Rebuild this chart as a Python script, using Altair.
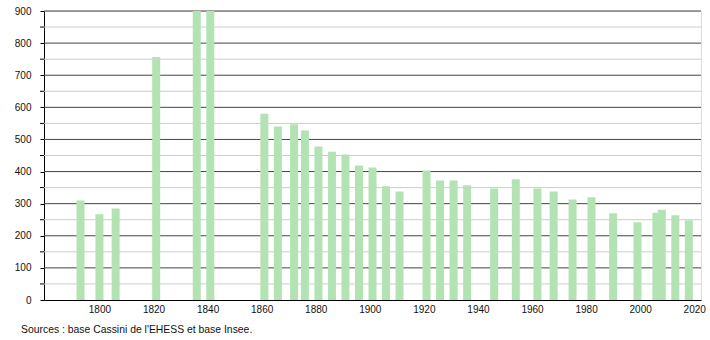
import altair as alt
import pandas as pd

years = [1793, 1800, 1806, 1821, 1836, 1841, 1861, 1866, 1872, 1876, 1881, 1886,
         1891, 1896, 1901, 1906, 1911, 1921, 1926, 1931, 1936, 1946, 1954, 1962,
         1968, 1975, 1982, 1990, 1999, 2006, 2008, 2013, 2018]
population = [310, 267, 285, 757, 950, 940, 580, 540, 547, 528, 478, 462,
              453, 419, 413, 354, 338, 403, 372, 372, 357, 347, 376, 347,
              338, 313, 320, 270, 242, 272, 281, 264, 248]
major_grid = [100, 200, 300, 400, 500, 600, 700, 800, 900]
minor_grid = [50, 150, 250, 350, 450, 550, 650, 750, 850]
x_ticks = [1800, 1820, 1840, 1860, 1880, 1900, 1920, 1940, 1960, 1980, 2000, 2020]
y_ticks = [0, 100, 200, 300, 400, 500, 600, 700, 800, 900]
source_text = "Sources : base Cassini de l'EHESS et base Insee."

FONT = "Liberation Sans"

df = pd.DataFrame({"year": years, "pop": population})
df_major = pd.DataFrame({"v": major_grid})
df_minor = pd.DataFrame({"v": minor_grid})
df_src = pd.DataFrame({"t": [source_text]})

xscale = alt.Scale(domain=[1779.5, 2022.5], nice=False, zero=False, padding=0)
yscale = alt.Scale(domain=[0, 900], nice=False, padding=0)

yaxis = alt.Axis(values=y_ticks, grid=False, format="d",
                 ticks=True, tickSize=4, tickColor="#000000",
                 domain=True, domainColor="#000000",
                 labelFont=FONT, labelFontSize=10, labelColor="#111111",
                 labelPadding=9)

xaxis = alt.Axis(values=x_ticks, format="d", ticks=False, grid=False,
                 domain=True, domainColor="#000000", domainWidth=1,
                 labelFont=FONT, labelFontSize=10, labelColor="#111111",
                 labelPadding=4)

minor = alt.Chart(df_minor).mark_rule(color="#cccccc", strokeWidth=1).encode(
    y=alt.Y("v:Q", scale=yscale, title=None, axis=yaxis)
)
minor_ticks = alt.Chart(df_minor).mark_rule(color="#000000", strokeWidth=1, clip=False).encode(
    y=alt.Y("v:Q", scale=yscale, title=None, axis=yaxis),
    x=alt.value(-4), x2=alt.value(0)
)
major = alt.Chart(df_major).mark_rule(color="#444444", strokeWidth=1).encode(
    y=alt.Y("v:Q", scale=yscale, title=None, axis=yaxis)
)

bars = alt.Chart(df).mark_bar(size=8, color="#b3e3b3", clip=True).encode(
    x=alt.X("year:Q", scale=xscale, title=None, axis=xaxis),
    y=alt.Y("pop:Q", scale=yscale, title=None, axis=yaxis),
)

src = alt.Chart(df_src).mark_text(align="left", baseline="middle", font=FONT,
                                   fontSize=10.4, color="#111111").encode(
    text="t:N", x=alt.value(-23), y=alt.value(319)
)

chart = alt.layer(minor, minor_ticks, major, bars, src).properties(
    width=657, height=289,
    autosize=alt.AutoSizeParams(type="none"),
    padding={"left": 44, "top": 11, "right": 9, "bottom": 40},
).configure_view(stroke=None).configure(background="white")

chart.save("out.html", embed_options={"renderer": "svg", "actions": False})
